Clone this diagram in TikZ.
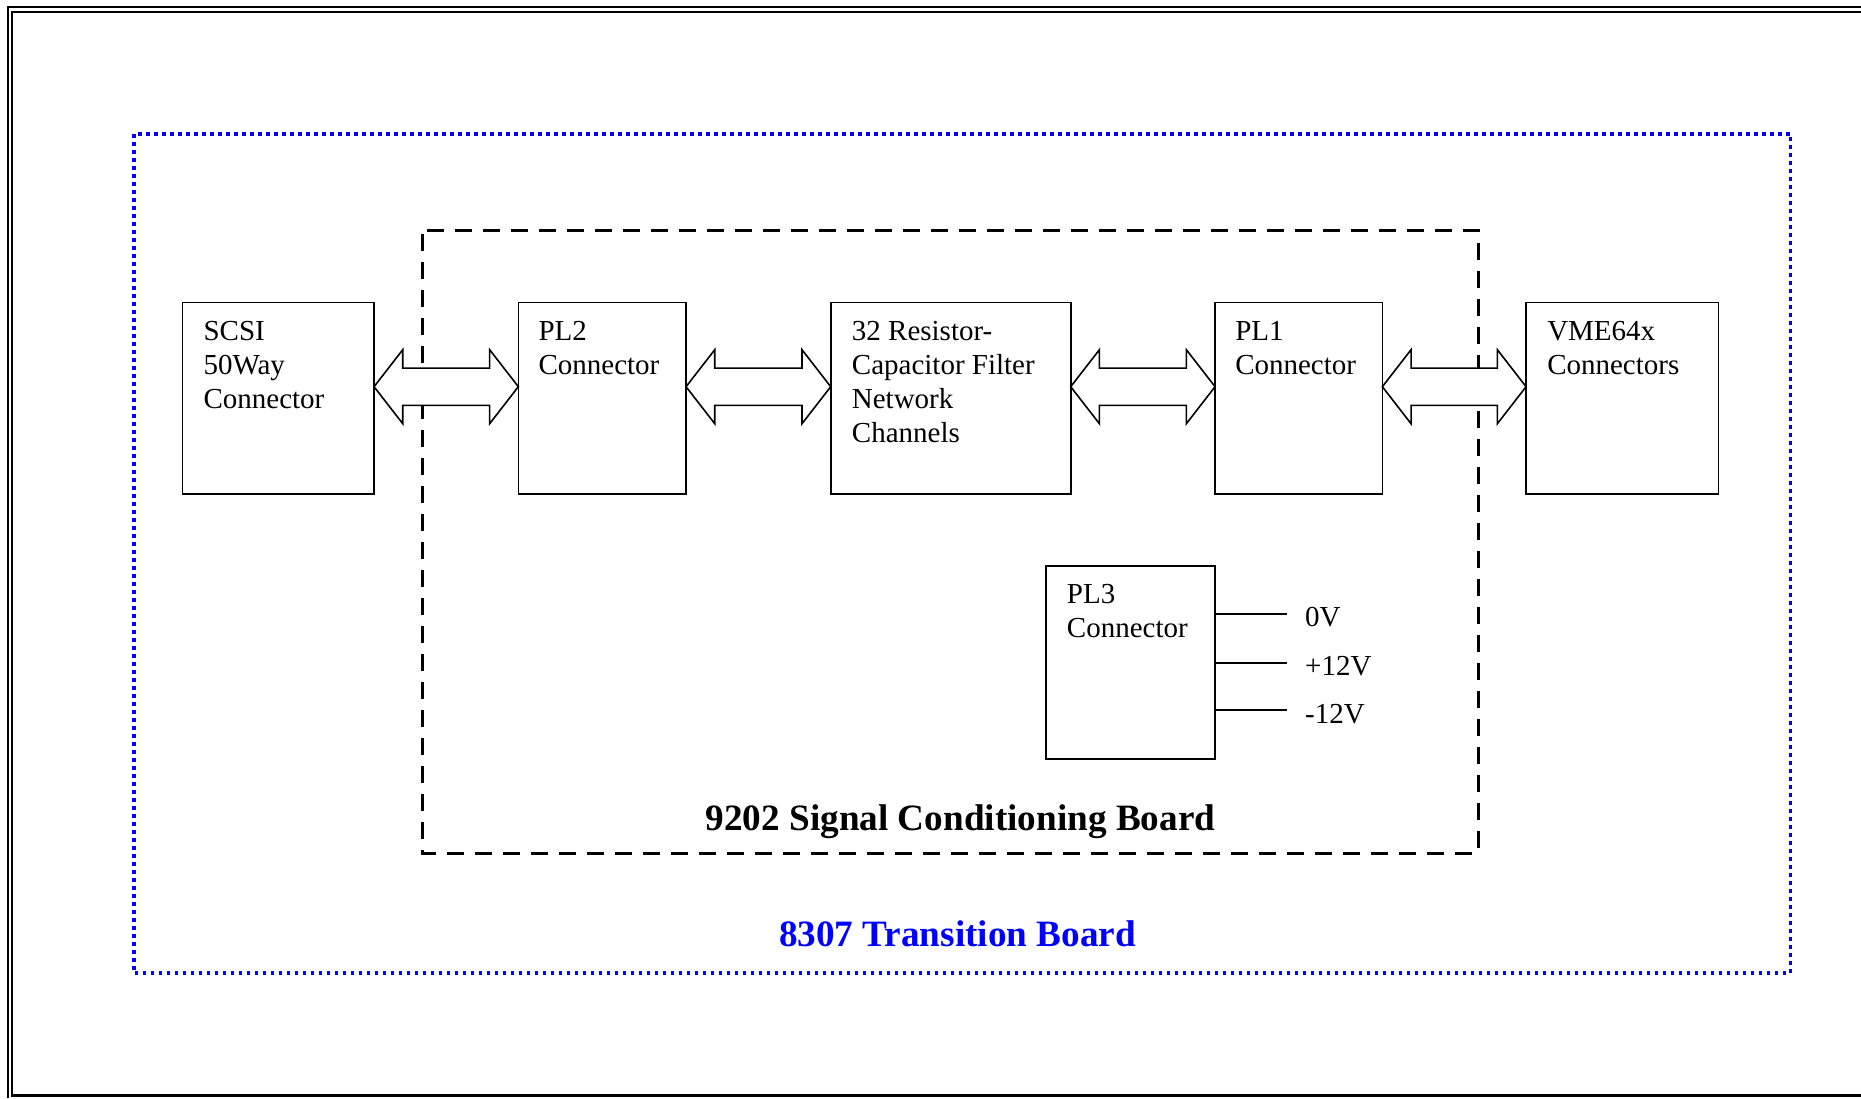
\documentclass[tikz,border=0pt]{standalone}
\usepackage{fontspec}
\setmainfont{Liberation Serif}
\usetikzlibrary{calc}
\definecolor{dotblue}{RGB}{0,0,255}
\newcommand{\bkarrow}[2]{%
  \draw[blockarr] ($(#1.east)+(0,-11.5)$)
    -- ++(28.7,-37) -- ++(0,18.4)
    -- ($(#2.west)+(-28.7,-30.1)$) -- ++(0,-18.4)
    -- ($(#2.west)+(0,-11.5)$)
    -- ++(-28.7,37) -- ++(0,-18.4)
    -- ($(#1.east)+(28.7,7.1)$) -- ++(0,18.4) -- cycle;}
\begin{document}
\begin{tikzpicture}[x=1pt,y=-1pt,
  box/.style={draw, line width=1.6pt, rectangle, inner sep=0pt, outer sep=0pt, minimum height=191.7pt},
  txt/.style={font=\fontsize{29}{34}\selectfont, align=left, inner sep=0pt, anchor=north west},
  blockarr/.style={draw, fill=white, line width=1.6pt, line join=miter},
  wire/.style={draw, line width=1.8pt},
  vlabel/.style={font=\fontsize{29}{34}\selectfont, inner sep=0pt, anchor=base west}]
\useasboundingbox (0,0) rectangle (1861,1098);
% page frame
\draw[line width=2.5pt] (7.8,1098) -- (7.8,7.2) -- (1861,7.2);
\draw[line width=2pt] (12.4,1095.5) -- (12.4,12.4) -- (1861,12.4);
\draw[line width=2.4pt] (11,1095.5) -- (1861,1095.5);
% transition board (blue dotted)
\draw[dotblue, line width=3.5pt, dash pattern=on 3.5pt off 4.5pt] (133.8,134) rectangle (1790.7,973);
% signal conditioning board (dashed)
\draw[line width=3pt, dash pattern=on 16.7pt off 11.3pt, dash phase=-4pt] (422.3,230) rectangle (1478,853);
% boxes
\node[box, minimum width=191.7pt] (scsi) at (278.2,398.2) {};
\node[box, minimum width=167.7pt] (pl2) at (602.2,398.2) {};
\node[box, minimum width=240pt] (res) at (950.7,398.2) {};
\node[box, minimum width=167.3pt] (pl1) at (1298.7,398.2) {};
\node[box, minimum width=192.3pt] (vme) at (1622.2,398.2) {};
\node[box, minimum width=169pt, minimum height=193.3pt] (pl3) at (1130.5,662.4) {};
% box texts
\node[txt] (scsiT) at ($(scsi.north west)+(21,14.2)$) {\strut SCSI\\50Way\\Connector};
\node[txt] (pl2T) at ($(pl2.north west)+(20,14.2)$) {\strut PL2\\Connector};
\node[txt] (resT) at ($(res.north west)+(21,14.2)$) {\strut 32 Resistor-\\Capacitor Filter\\Network\\Channels};
\node[txt] (pl1T) at ($(pl1.north west)+(20,14.2)$) {\strut PL1\\Connector};
\node[txt] (vmeT) at ($(vme.north west)+(21,14.2)$) {\strut VME64x\\Connectors};
\node[txt] (pl3T) at ($(pl3.north west)+(20.7,13.8)$) {\strut PL3\\Connector};
% block arrows
\bkarrow{scsi}{pl2}
\bkarrow{pl2}{res}
\bkarrow{res}{pl1}
\bkarrow{pl1}{vme}
% PL3 supply wires
\draw[wire] ($(pl3.east)+(0,-48.1)$) -- ++(71.7,0) coordinate (w0);
\draw[wire] ($(pl3.east)+(0,0.3)$) -- ++(71.7,0) coordinate (w1);
\draw[wire] ($(pl3.east)+(0,47.6)$) -- ++(71.7,0) coordinate (w2);
\node[vlabel] (v0) at ($(w0)+(18.3,12.4)$) {0V};
\node[vlabel] (v1) at ($(w1)+(18.3,12.3)$) {+12V};
\node[vlabel] (v2) at ($(w2)+(18.3,13.3)$) {-12V};
% titles
\node[font=\fontsize{37.2}{44}\selectfont\bfseries, anchor=base, inner sep=0pt] (sigtitle) at (960.5,830) {9202 Signal Conditioning Board};
\node[text=dotblue, font=\fontsize{37.2}{44}\selectfont\bfseries, anchor=base, inner sep=0pt] (trtitle) at (957.5,946.7) {8307 Transition Board};
\end{tikzpicture}
\end{document}
